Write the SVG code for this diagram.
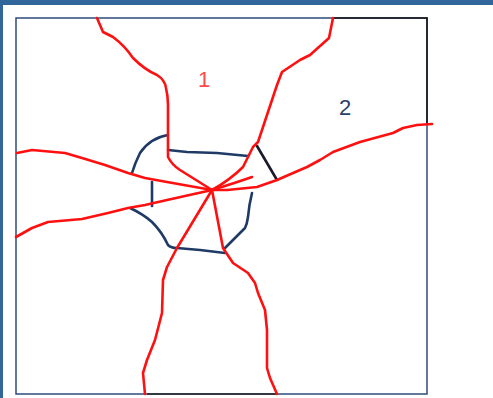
<svg xmlns="http://www.w3.org/2000/svg" width="493" height="398" viewBox="0 0 493 398">
<style>
.red{fill:none;stroke:#ff1010;stroke-width:2.6;stroke-linecap:round;stroke-linejoin:round}
.hex{fill:none;stroke:#1f3a64;stroke-width:2.6;stroke-linecap:round;stroke-linejoin:round}
.hexk{fill:none;stroke:#1a1a2a;stroke-width:2.6;stroke-linecap:round}
.lbl{font-family:"Liberation Sans",Arial,sans-serif;font-size:22px;text-anchor:middle}
</style>
<rect x="0" y="0" width="493" height="398" fill="#ffffff"/>
<rect x="0" y="0" width="493" height="5" fill="#31669a"/>
<rect x="0" y="0" width="3" height="398" fill="#31669a"/>
<g id="frame">
<rect x="16" y="18" width="411" height="376" fill="none" stroke="#2f4b7c" stroke-width="1.5"/>
<path d="M333 18H427V124" fill="none" stroke="#111" stroke-width="1.5"/>
<path d="M147 394H277" fill="none" stroke="#222" stroke-width="1.5"/>
</g>
<g id="cell">
<path class="hex" d="M168 135Q150 138 140 153Q135 163 132 173"/>
<path class="hex" d="M168 150L187 152L217 153L248 156"/>
<path class="hexk" d="M257 146L277 180"/>
<path class="hex" d="M152 182V206"/>
<path class="hex" d="M130 208Q143 214 152 222Q162 232 168 245Q171 248 177 248L200 250L225 253"/>
<path class="hex" d="M252 193Q249 205 248 217Q247 224 245 228L225 248"/>
</g>
<g id="connectors">
<path class="red" d="M97 18L103 32L113 37Q125 46 133 58Q145 70 157 75Q165 80 166 88Q168 96 168 105V157Q172 165 180 170Q196 180 212 190"/>
<path class="red" d="M333 18L329 38L310 55L300 60L282 72L277 85L258 142L253 147L243 167Q230 180 212 190"/>
<path class="red" d="M432 124L417 125L403 128L393 133L360 142L333 152L320 160L307 167L300 170L277 180L257 187L227 190L212 190"/>
<path class="red" d="M212 190Q235 183 252 177"/>
<path class="red" d="M17 153L32 150L65 153L82 158L105 165L128 173L145 178L167 182L212 190"/>
<path class="red" d="M16 237L32 228L48 222L82 219L108 213L128 208L145 205L167 200L212 190"/>
<path class="red" d="M212 190L177 248L167 267L163 280L162 313L155 340L147 360L143 373L145 394"/>
<path class="red" d="M212 190L223 248L233 263L248 273L255 283L258 293L265 310L267 330L267 368L270 378L277 394"/>
</g>
<g id="labels">
<text class="lbl" x="204" y="87" fill="#ff4a4a">1</text>
<text class="lbl" x="345" y="115" fill="#2c3e6a">2</text>
</g>
</svg>
